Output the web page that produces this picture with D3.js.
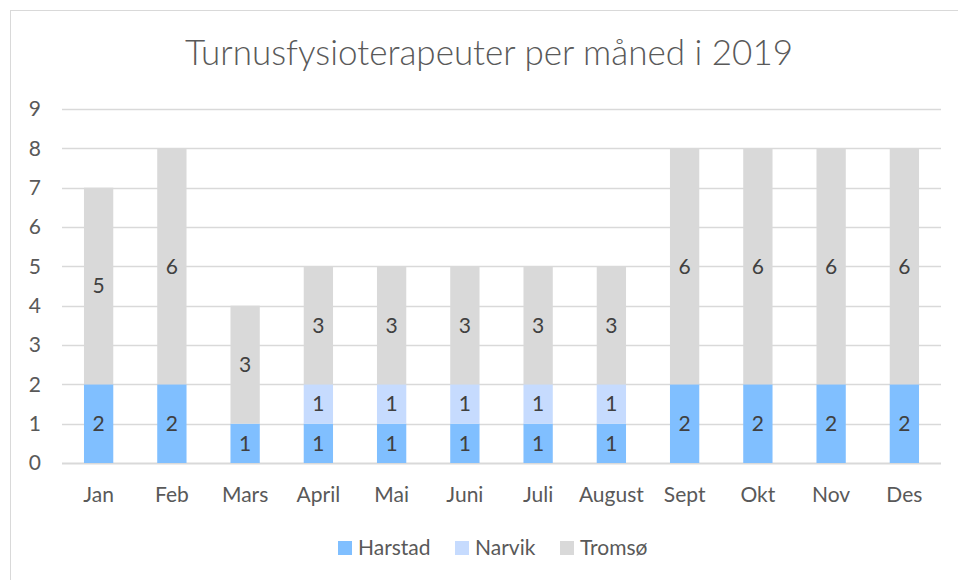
<!DOCTYPE html>
<html>
<head>
<meta charset="utf-8">
<script src="https://cdn.jsdelivr.net/npm/d3@7"></script>
<style>
  body { margin: 0; background: #fff; }
  svg text { font-family: Lato, "Open Sans", sans-serif; }
</style>
</head>
<body>
<div id="chart"></div>
<script>
// data
const months = ['Jan', 'Feb', 'Mars', 'April', 'Mai', 'Juni', 'Juli', 'August', 'Sept', 'Okt', 'Nov', 'Des'];
const harstad = [2, 2, 1, 1, 1, 1, 1, 1, 2, 2, 2, 2];
const narvik  = [0, 0, 0, 1, 1, 1, 1, 1, 0, 0, 0, 0];
const tromso  = [5, 6, 3, 3, 3, 3, 3, 3, 6, 6, 6, 6];
const seriesNames = ['Harstad', 'Narvik', 'Tromsø'];
const seriesColors = ['#80bfff', '#c6dbfe', '#d9d9d9'];
const yTicks = [0, 1, 2, 3, 4, 5, 6, 7, 8, 9];

const width = 958, height = 580;
const plot = { left: 62, right: 941, top: 109, bottom: 463 };
const fontSize = '21px';

const svg = d3.select('#chart').append('svg')
  .attr('width', width)
  .attr('height', height);

// chart frame
svg.append('rect')
  .attr('x', 10.5).attr('y', 10.5)
  .attr('width', width).attr('height', height)
  .attr('fill', 'none')
  .attr('stroke', '#d9d9d9');

svg.append('text')
  .attr('x', 489).attr('y', 65)
  .attr('text-anchor', 'middle')
  .attr('fill', '#595959')
  .style('font-size', '35px')
  .style('font-weight', 300)
  .text('Turnusfysioterapeuter per måned i 2019');

const x = d3.scaleBand()
  .domain(months)
  .range([plot.left, plot.right])
  .paddingInner(0.6)
  .paddingOuter(0.3);

const y = d3.scaleLinear()
  .domain([0, 9])
  .range([plot.bottom, plot.top]);

// gridlines
svg.append('g')
  .selectAll('line')
  .data(yTicks)
  .join('line')
  .attr('x1', plot.left).attr('x2', plot.right)
  .attr('y1', d => Math.round(y(d)) + 0.5)
  .attr('y2', d => Math.round(y(d)) + 0.5)
  .attr('stroke', '#d9d9d9')
  .attr('stroke-width', d => d === 0 ? 2 : 1.5);

// y tick labels
svg.append('g')
  .selectAll('text')
  .data(yTicks)
  .join('text')
  .attr('x', 41).attr('y', d => y(d))
  .attr('dy', '0.35em')
  .attr('text-anchor', 'end')
  .attr('fill', '#595959')
  .style('font-size', fontSize)
  .text(d => d);

const rows = months.map((m, i) => ({ month: m, Harstad: harstad[i], Narvik: narvik[i], 'Tromsø': tromso[i] }));
const stacked = d3.stack().keys(seriesNames)(rows);

const layers = svg.append('g')
  .selectAll('g')
  .data(stacked)
  .join('g')
  .attr('fill', (d, i) => seriesColors[i]);

layers.selectAll('rect')
  .data(d => d)
  .join('rect')
  .attr('x', d => x(d.data.month))
  .attr('width', x.bandwidth())
  .attr('y', d => y(d[1]))
  .attr('height', d => y(d[0]) - y(d[1]));

// value labels
layers.selectAll('text')
  .data(d => d.filter(v => v[1] - v[0] > 0))
  .join('text')
  .attr('x', d => x(d.data.month) + x.bandwidth() / 2)
  .attr('y', d => y((d[0] + d[1]) / 2))
  .attr('dy', '0.35em')
  .attr('text-anchor', 'middle')
  .attr('fill', '#404040')
  .style('font-size', fontSize)
  .text(d => d[1] - d[0]);

// x labels
svg.append('g')
  .selectAll('text')
  .data(months)
  .join('text')
  .attr('x', d => x(d) + x.bandwidth() / 2)
  .attr('y', 502)
  .attr('text-anchor', 'middle')
  .attr('fill', '#595959')
  .style('font-size', fontSize)
  .text(d => d);

// legend
const legendX = [338, 455, 560];
const legend = svg.append('g')
  .selectAll('g')
  .data(seriesNames)
  .join('g')
  .attr('transform', (d, i) => 'translate(' + legendX[i] + ',541)');

legend.append('rect')
  .attr('width', 14).attr('height', 14)
  .attr('fill', (d, i) => seriesColors[i]);

legend.append('text')
  .attr('x', 20).attr('y', 7)
  .attr('dy', '0.35em')
  .attr('fill', '#595959')
  .style('font-size', fontSize)
  .text(d => d);
</script>
</body>
</html>
